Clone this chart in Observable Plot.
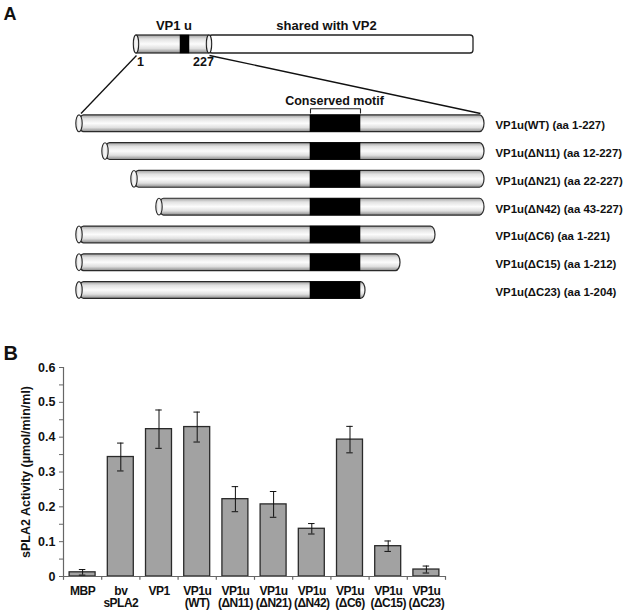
<!DOCTYPE html>
<html>
<head>
<meta charset="utf-8">
<script src="https://cdn.jsdelivr.net/npm/d3@7"></script>
<script src="https://cdn.jsdelivr.net/npm/@observablehq/plot@0.6"></script>
<style>
  body { margin: 0; background: #fff; }
  #fig { position: relative; width: 631px; height: 616px; }
  #fig svg { position: absolute; left: 0; }
</style>
</head>
<body>
<div id="fig"></div>
<script>
// ---------- Panel A: VP1u truncation constructs ----------
const constructNames = ["VP1u(WT)", "VP1u(ΔN11)", "VP1u(ΔN21)", "VP1u(ΔN42)", "VP1u(ΔC6)", "VP1u(ΔC15)", "VP1u(ΔC23)"];
const constructStart = [1, 12, 22, 43, 1, 1, 1];
const constructEnd = [227, 227, 227, 227, 221, 212, 204];
const motifAA = [161, 200];        // conserved motif (aa)
const vp1uEnd = 227;               // end of the VP1-unique region
const vp1End = 781;                // end of VP1 (shared with VP2)

// ---------- Panel B: sPLA2 activity ----------
const samples = ["MBP", "bv\nsPLA2", "VP1", "VP1u\n(WT)", "VP1u\n(ΔN11)", "VP1u\n(ΔN21)", "VP1u\n(ΔN42)", "VP1u\n(ΔC6)", "VP1u\n(ΔC15)", "VP1u\n(ΔC23)"];
const activity = [0.012, 0.343, 0.423, 0.429, 0.222, 0.207, 0.137, 0.393, 0.087, 0.020];
const activityErr = [0.008, 0.040, 0.055, 0.043, 0.036, 0.037, 0.015, 0.038, 0.015, 0.010];
const yTicks = [0, 0.1, 0.2, 0.3, 0.4, 0.5, 0.6];
const yMinorTicks = [0.05, 0.15, 0.25, 0.35, 0.45, 0.55];

const FONT = '"Liberation Sans", Arial, Helvetica, sans-serif';
const fig = document.getElementById("fig");

// Schematic (not-to-scale) piecewise position scales for the diagram
const rowX = d3.scaleLinear()
  .domain([1, 12, 22, 43, motifAA[0], motifAA[1], 204, 212, 221, 227])
  .range([79, 105, 134, 159, 310, 360, 365, 400, 435, 484]);
const ovX = d3.scaleLinear()
  .domain([1, motifAA[0], motifAA[1], vp1uEnd, vp1End])
  .range([136, 180, 189, 209, 473]);
const rowY = d3.scalePoint().domain(constructNames).range([123.3, 290]);

const rows = constructNames.map((name, i) => ({
  name, start: constructStart[i], end: constructEnd[i], y: rowY(name)
}));
const rowHalf = 8.4;     // half height of a construct cylinder
const ovTop = 35, ovBottom = 53;
const capW = 3.2;

const connectors = [
  {aa: 1, dx2: 1.5},
  {aa: vp1uEnd, dx2: -4}
];

const motifX1 = rowX(motifAA[0]), motifX2 = rowX(motifAA[1]);
const bracketTop = 108.3, bracketFoot = 112.5;
const bracket = [[motifX1, bracketFoot], [motifX1, bracketTop], [motifX2, bracketTop], [motifX2, bracketFoot]];

const txt = {fontWeight: "bold", fill: "#111", stroke: null};

const svgA = Plot.plot({
  width: 631, height: 330, margin: 0,
  x: {type: "identity", axis: null}, y: {type: "identity", axis: null},
  style: {fontFamily: FONT, background: "transparent", overflow: "visible"},
  marks: [
    // lines fanning out from the VP1u region to the construct list
    Plot.link(connectors, {
      x1: d => ovX(d.aa), y1: () => ovBottom + 2,
      x2: d => rowX(d.aa) + d.dx2, y2: () => 113,
      stroke: "#111", strokeWidth: 1.3
    }),
    // part of VP1 shared with VP2
    Plot.rect([0], {x1: () => ovX(vp1uEnd), x2: () => ovX(vp1End), y1: () => ovTop, y2: () => ovBottom,
      fill: "white", stroke: "#222", strokeWidth: 1.3, rx: 3}),
    // VP1u cylinder
    Plot.rect([0], {x1: () => ovX(1), x2: () => ovX(vp1uEnd), y1: () => ovTop, y2: () => ovBottom,
      fill: "url(#cylGrad)", stroke: "#222", strokeWidth: 1.2}),
    Plot.rect([0], {x1: () => ovX(motifAA[0]), x2: () => ovX(motifAA[1]), y1: () => ovTop, y2: () => ovBottom,
      fill: "black", stroke: "black", strokeWidth: 0.5}),
    Plot.rect([1, vp1uEnd], {x1: d => ovX(d) - 2.7, x2: d => ovX(d) + 2.7, y1: () => ovTop, y2: () => ovBottom,
      fill: "url(#capGrad)", stroke: "#222", strokeWidth: 1.1, rx: 2.7, ry: 9}),

    // construct cylinders
    Plot.rect(rows, {x1: d => rowX(d.start), x2: d => rowX(d.end), y1: d => d.y - rowHalf, y2: d => d.y + rowHalf,
      fill: "url(#cylGrad)", stroke: "#2a2a2a", strokeWidth: 1.2, rx: 4.5, ry: rowHalf}),
    Plot.rect(rows, {x1: () => motifX1, x2: () => motifX2, y1: d => d.y - rowHalf, y2: d => d.y + rowHalf,
      fill: "black", stroke: "black", strokeWidth: 0.6}),
    Plot.rect(rows, {x1: d => rowX(d.start) - capW, x2: d => rowX(d.start) + capW, y1: d => d.y - rowHalf, y2: d => d.y + rowHalf,
      fill: "url(#capGrad)", stroke: "#2a2a2a", strokeWidth: 1.1, rx: capW, ry: rowHalf}),

    // conserved motif bracket
    Plot.line(bracket, {x: d => d[0], y: d => d[1], stroke: "#222", strokeWidth: 1.1}),

    // text
    Plot.text(["A"], {x: () => 3, y: () => 13.5, textAnchor: "start", fontSize: 18, ...txt}),
    Plot.text(["VP1 u"], {x: () => (ovX(1) + ovX(vp1uEnd)) / 2 + 1, y: () => 25.5, fontSize: 13, ...txt}),
    Plot.text(["shared with VP2"], {x: () => 326, y: () => 25.5, fontSize: 13, ...txt}),
    Plot.text([1, vp1uEnd], {x: d => ovX(d) + (d === 1 ? 4 : -6), y: () => 61, text: d => String(d), fontSize: 12.5, ...txt}),
    Plot.text(["Conserved motif"], {x: () => (motifX1 + motifX2) / 2 - 1, y: () => 100.5, fontSize: 12.5, ...txt}),
    Plot.text(rows, {x: () => 495, y: d => d.y + 1.8, text: d => `${d.name} (aa ${d.start}-${d.end})`,
      textAnchor: "start", fontSize: 11.4, ...txt})
  ]
});
svgA.style.top = "0px";

// gradients giving the constructs a cylindrical look
const defs = d3.select(svgA).insert("defs", ":first-child");
const g1 = defs.append("linearGradient").attr("id", "cylGrad").attr("x1", 0).attr("y1", 0).attr("x2", 0).attr("y2", 1);
[[0, "#a0a0a0"], [0.22, "#e2e2e2"], [0.5, "#fcfcfc"], [0.75, "#e0e0e0"], [1, "#8a8a8a"]]
  .forEach(([o, c]) => g1.append("stop").attr("offset", o).attr("stop-color", c));
const g2 = defs.append("linearGradient").attr("id", "capGrad").attr("x1", 0).attr("y1", 0).attr("x2", 1).attr("y2", 0);
[[0, "#d0d0d0"], [0.5, "#fafafa"], [1, "#d8d8d8"]]
  .forEach(([o, c]) => g2.append("stop").attr("offset", o).attr("stop-color", c));

fig.appendChild(svgA);

// ---------- Panel B chart ----------
const bars = samples.map((label, i) => ({i, label, value: activity[i], err: activityErr[i]}));
const caps = bars.flatMap(d => [{i: d.i, y: d.value - d.err}, {i: d.i, y: d.value + d.err}]);
const capHalf = 0.085;

const svgB = Plot.plot({
  width: 631, height: 286,
  marginLeft: 63, marginRight: 186, marginTop: 37, marginBottom: 40,
  x: {domain: [0, samples.length], axis: null},
  y: {domain: [0, 0.6]},
  style: {fontFamily: FONT, background: "transparent", overflow: "visible", color: "#111"},
  marks: [
    Plot.rect(bars, {x1: d => d.i + 0.16, x2: d => d.i + 0.84, y1: () => 0, y2: "value",
      fill: "#a2a2a2", stroke: "#2a2a2a", strokeWidth: 1.3}),
    Plot.ruleX(bars, {x: d => d.i + 0.5, y1: d => d.value - d.err, y2: d => d.value + d.err, stroke: "#111", strokeWidth: 1}),
    Plot.ruleY(caps, {y: "y", x1: d => d.i + 0.5 - capHalf, x2: d => d.i + 0.5 + capHalf, stroke: "#111", strokeWidth: 1}),
    // axis lines and category separators
    Plot.ruleY([0], {stroke: "#666", strokeWidth: 1.2}),
    Plot.ruleX([0], {y1: () => 0, y2: () => 0.6, stroke: "#666", strokeWidth: 1.2}),
    Plot.ruleX(d3.range(0, samples.length + 1), {x: d => d, y1: () => 0, y2: () => -0.011, stroke: "#666", strokeWidth: 1.2}),
    Plot.text(bars, {x: d => d.i + 0.5, y: () => 0, text: "label", lineAnchor: "top", dy: 9,
      lineHeight: 1.06, fontSize: 12, ...txt}),
    Plot.axisY({ticks: yTicks, tickFormat: d => d === 0 ? "0" : d.toFixed(1), tickSize: 4, tickPadding: 4,
      fontWeight: "bold", fontSize: 12.5, stroke: "#666",
      label: "sPLA2 Activity (µmol/min/ml)", labelAnchor: "center", labelOffset: 42, labelArrow: "none"}),
    Plot.axisY({ticks: yMinorTicks, tickFormat: () => "", tickSize: 4, label: null, stroke: "#666"}),
    Plot.text(["B"], {frameAnchor: "top-left", dx: -60, dy: -21.5, textAnchor: "start", fontSize: 20, ...txt})
  ]
});
svgB.style.top = "330px";
// slightly tighter tracking for the two-line category labels
d3.select(svgB).select('g[aria-label="text"]').selectAll("text").style("letter-spacing", "-0.5px");
fig.appendChild(svgB);
</script>
</body>
</html>
